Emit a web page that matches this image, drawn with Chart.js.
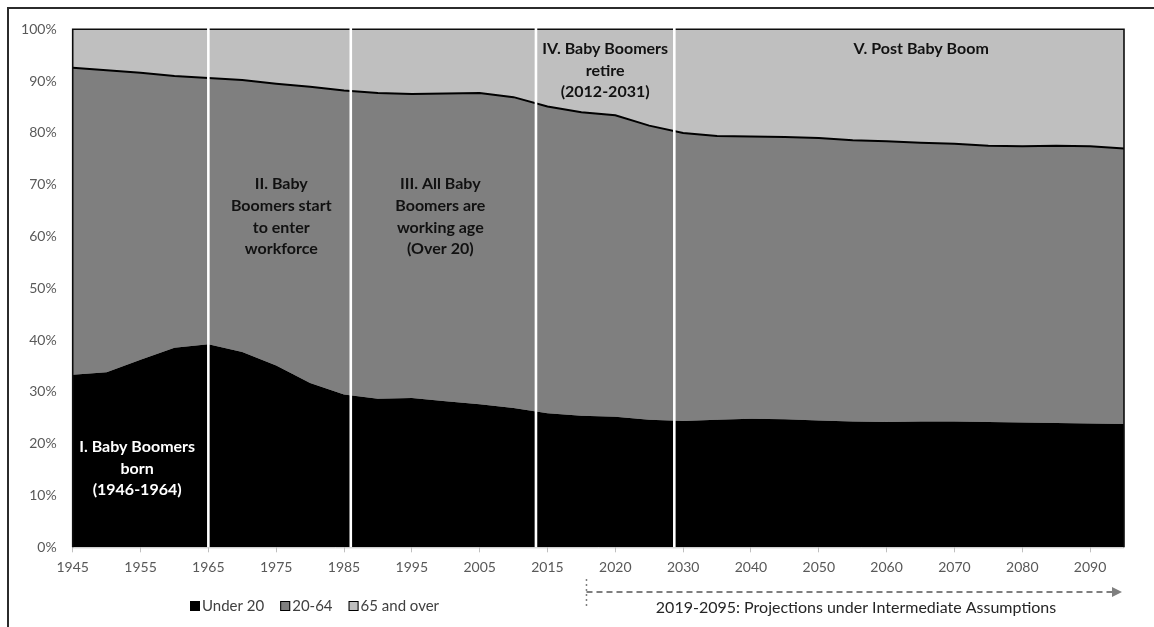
<!DOCTYPE html>
<html>
<head>
<meta charset="utf-8">
<title>Population by age group, 1945-2095</title>
<script src="https://cdn.jsdelivr.net/npm/chart.js@4.4.1/dist/chart.umd.min.js"></script>
<style>
  html, body { margin: 0; padding: 0; background: #fff; }
  #wrap { position: relative; width: 1154px; height: 627px; }
</style>
</head>
<body>
<div id="wrap"><canvas id="popChart" width="1154" height="627"></canvas></div>
<script>
// category axis: 5-year steps, plus 2019 where the projections start
const years = [
  '1945', '1950', '1955', '1960', '1965', '1970', '1975', '1980', '1985', '1990',
  '1995', '2000', '2005', '2010', '2015', '2019', '2020', '2025', '2030', '2035',
  '2040', '2045', '2050', '2055', '2060', '2065', '2070', '2075', '2080', '2085',
  '2090', '2095'
];

// share of population, percent
const under20 = [
  33.3, 33.8, 36.2, 38.5, 39.2, 37.7, 35.1, 31.7, 29.5, 28.7,
  28.8, 28.2, 27.6, 26.9, 25.9, 25.4, 25.2, 24.6, 24.4, 24.6,
  24.8, 24.7, 24.5, 24.3, 24.2, 24.3, 24.3, 24.2, 24.1, 24.0,
  23.9, 23.8
];
const age20to64 = [
  59.3, 58.3, 55.4, 52.5, 51.4, 52.5, 54.4, 57.2, 58.7, 59.0,
  58.7, 59.4, 60.1, 60.0, 59.2, 58.6, 58.2, 56.8, 55.6, 54.8,
  54.5, 54.5, 54.5, 54.3, 54.2, 53.8, 53.6, 53.3, 53.3, 53.5,
  53.5, 53.2
];
const age65plus = [
  7.4, 7.9, 8.4, 9.0, 9.4, 9.8, 10.5, 11.1, 11.8, 12.3,
  12.5, 12.4, 12.3, 13.1, 14.9, 16.0, 16.6, 18.6, 20.0, 20.6,
  20.7, 20.8, 21.0, 21.4, 21.6, 21.9, 22.1, 22.5, 22.6, 22.5,
  22.6, 23.0
];

const seriesNames = ['Under 20', '20-64', '65 and over'];
const yTickStep = 10;

// phase boundaries, as positions on the category axis
const phaseLines = [4, 8.2, 13.66, 17.74];

// phase notes: x as category position, y as percent of the first line
const phaseNotes = [
  { lines: ['I. Baby Boomers', 'born', '(1946-1964)'], x: 1.9, y: 19.4, color: '#ffffff' },
  { lines: ['II. Baby', 'Boomers start', 'to enter', 'workforce'], x: 6.15, y: 70.1, color: '#111111' },
  { lines: ['III. All Baby', 'Boomers are', 'working age', '(Over 20)'], x: 10.84, y: 70.1, color: '#111111' },
  { lines: ['IV. Baby Boomers', 'retire', '(2012-2031)'], x: 15.7, y: 96.2, color: '#111111' },
  { lines: ['V. Post Baby Boom'], x: 25.02, y: 96.2, color: '#111111' }
];

const projectionStart = 15.15;
const projectionText = '2019-2095: Projections under Intermediate Assumptions';

const decorations = {
  id: 'decorations',
  afterDatasetsDraw(chart) {
    const ctx = chart.ctx;
    const area = chart.chartArea;
    const x = chart.scales.x;
    const y = chart.scales.y;

    ctx.save();
    // axis line
    ctx.strokeStyle = '#bfbfbf';
    ctx.lineWidth = 1;
    ctx.beginPath();
    ctx.moveTo(area.left, area.bottom + 0.5);
    ctx.lineTo(area.right, area.bottom + 0.5);
    ctx.stroke();

    // plot frame
    ctx.strokeStyle = '#0d0d0d';
    ctx.lineWidth = 1.6;
    ctx.beginPath();
    ctx.moveTo(area.left, area.bottom);
    ctx.lineTo(area.left, area.top);
    ctx.lineTo(area.right, area.top);
    ctx.lineTo(area.right, area.bottom);
    ctx.stroke();

    // white phase lines
    ctx.strokeStyle = '#ffffff';
    ctx.lineWidth = 2.6;
    phaseLines.forEach(p => {
      const px = x.getPixelForValue(p);
      ctx.beginPath();
      ctx.moveTo(px, area.top - 3);
      ctx.lineTo(px, area.bottom);
      ctx.stroke();
    });

    // phase notes
    ctx.font = 'bold 16px Lato';
    ctx.textAlign = 'center';
    ctx.textBaseline = 'middle';
    phaseNotes.forEach(n => {
      const px = x.getPixelForValue(n.x);
      const py = y.getPixelForValue(n.y);
      ctx.fillStyle = n.color;
      n.lines.forEach((t, i) => ctx.fillText(t, px, py + i * 21.6));
    });
    ctx.restore();
  },
  afterDraw(chart) {
    const ctx = chart.ctx;
    const area = chart.chartArea;
    const x = chart.scales.x;
    ctx.save();

    // outer frame
    ctx.strokeStyle = '#2b2b2b';
    ctx.lineWidth = 2;
    ctx.beginPath();
    ctx.moveTo(8, chart.height);
    ctx.lineTo(8, 8);
    ctx.lineTo(chart.width, 8);
    ctx.stroke();

    // legend
    ctx.font = '15px Lato';
    ctx.textBaseline = 'middle';
    ctx.textAlign = 'left';
    let lx = 190;
    const ly = 606;
    chart.data.datasets.forEach(ds => {
      ctx.fillStyle = ds.backgroundColor;
      ctx.fillRect(lx, ly - 5, 10, 10);
      ctx.strokeStyle = '#000000';
      ctx.lineWidth = 1;
      ctx.strokeRect(lx + 0.5, ly - 4.5, 9, 9);
      ctx.fillStyle = '#404040';
      ctx.fillText(ds.label, lx + 12, ly);
      lx += 12 + ctx.measureText(ds.label).width + 16;
    });

    // projections arrow
    const sx = x.getPixelForValue(projectionStart);
    const ay = 592;
    const ex = area.right - 2;
    ctx.strokeStyle = '#7f7f7f';
    ctx.setLineDash([2, 3]);
    ctx.lineWidth = 1.5;
    ctx.beginPath();
    ctx.moveTo(sx, ay - 13);
    ctx.lineTo(sx, ay + 15);
    ctx.stroke();
    ctx.setLineDash([6, 4]);
    ctx.lineWidth = 2;
    ctx.beginPath();
    ctx.moveTo(sx, ay);
    ctx.lineTo(ex - 8, ay);
    ctx.stroke();
    ctx.setLineDash([]);
    ctx.fillStyle = '#7f7f7f';
    ctx.beginPath();
    ctx.moveTo(ex, ay);
    ctx.lineTo(ex - 10, ay - 5);
    ctx.lineTo(ex - 10, ay + 5);
    ctx.closePath();
    ctx.fill();

    ctx.fillStyle = '#262626';
    ctx.font = '16px Lato';
    ctx.textAlign = 'center';
    ctx.fillText(projectionText, 856, 608);
    ctx.restore();
  }
};

function buildChart() {
  Chart.defaults.font.family = 'Lato';
  const ctx = document.getElementById('popChart').getContext('2d');
  new Chart(ctx, {
    type: 'line',
    data: {
      labels: years,
      datasets: [{
        label: seriesNames[0],
        data: under20,
        backgroundColor: '#000000',
        borderColor: 'rgba(0,0,0,0)',
        borderWidth: 0,
        fill: 'origin'
      }, {
        label: seriesNames[1],
        data: age20to64,
        backgroundColor: '#7f7f7f',
        borderColor: '#000000',
        borderWidth: 2,
        fill: '-1'
      }, {
        label: seriesNames[2],
        data: age65plus,
        backgroundColor: '#bfbfbf',
        borderColor: 'rgba(0,0,0,0)',
        borderWidth: 0,
        fill: '-1'
      }]
    },
    options: {
      responsive: false,
      animation: false,
      devicePixelRatio: 1,
      layout: { padding: { left: 0, right: 30, top: 29.3, bottom: 0 } },
      plugins: { legend: { display: false }, tooltip: { enabled: false } },
      elements: { point: { radius: 0 }, line: { tension: 0 } },
      scales: {
        x: {
          offset: false,
          grid: {
            drawOnChartArea: false,
            drawTicks: true,
            tickLength: 5,
            offset: false,
            color: c => (c.index % 2 === 0 && c.index < years.length - 1) ? '#bfbfbf' : 'rgba(0,0,0,0)'
          },
          border: { display: false },
          ticks: {
            autoSkip: false,
            maxRotation: 0,
            padding: 7,
            color: '#595959',
            font: { size: 14 },
            callback: (v, i) => (i % 2 === 0 && i < years.length - 1) ? years[i] : ''
          },
          afterFit: s => { s.height = 627 - 547.3; }
        },
        y: {
          stacked: true,
          min: 0,
          max: 100,
          grid: { display: false, drawTicks: false },
          border: { display: false },
          ticks: {
            stepSize: yTickStep,
            padding: 16,
            color: '#595959',
            font: { size: 14 },
            callback: v => v + '%'
          },
          afterFit: s => { s.width = 72.7; }
        }
      }
    },
    plugins: [decorations]
  });
}

Promise.all([
  document.fonts.load('16px Lato'),
  document.fonts.load('bold 16px Lato')
]).then(buildChart, buildChart);
</script>
</body>
</html>
